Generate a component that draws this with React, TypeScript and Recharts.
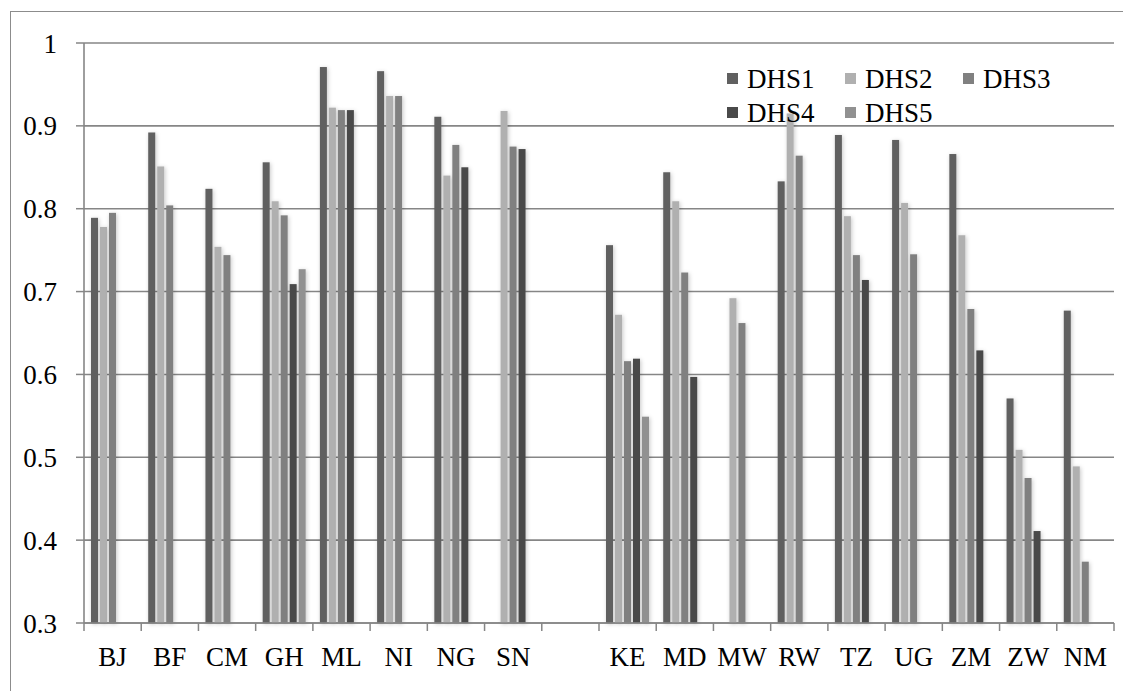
import { Bar, BarChart, CartesianGrid, XAxis, YAxis } from 'recharts'

// Survey rounds per country; null where a round is not available.
const countries = ['BJ', 'BF', 'CM', 'GH', 'ML', 'NI', 'NG', 'SN', '', 'KE', 'MD', 'MW', 'RW', 'TZ', 'UG', 'ZM', 'ZW', 'NM']
const dhs1 = [0.789, 0.892, 0.824, 0.856, 0.971, 0.966, 0.911, null, null, 0.756, 0.844, null, 0.833, 0.889, 0.883, 0.866, 0.571, 0.677]
const dhs2 = [0.778, 0.851, 0.754, 0.809, 0.922, 0.936, 0.84, 0.918, null, 0.672, 0.809, 0.692, 0.915, 0.791, 0.807, 0.768, 0.509, 0.489]
const dhs3 = [0.795, 0.804, 0.744, 0.792, 0.919, 0.936, 0.877, 0.875, null, 0.616, 0.723, 0.662, 0.864, 0.744, 0.745, 0.679, 0.475, 0.374]
const dhs4 = [null, null, null, 0.709, 0.919, null, 0.85, 0.872, null, 0.619, 0.597, null, null, 0.714, null, 0.629, 0.411, null]
const dhs5 = [null, null, null, 0.727, null, null, null, null, null, 0.549, null, null, null, null, null, null, null, null]

const seriesNames = ['DHS1', 'DHS2', 'DHS3', 'DHS4', 'DHS5']
const seriesValues = [dhs1, dhs2, dhs3, dhs4, dhs5]
const seriesColors = ['#606060', '#b0b0b0', '#808080', '#4a4a4a', '#919191']
const yTicks = [0.3, 0.4, 0.5, 0.6, 0.7, 0.8, 0.9, 1]

const data = countries.map((code, i) => {
  const row: Record<string, string | number | null> = { code }
  seriesNames.forEach((name, s) => {
    row[name] = seriesValues[s][i]
  })
  return row
})

const W = 1115
const H = 683
const MARGIN = { top: 35, right: 9, bottom: 18, left: 0 }
const Y_AXIS_W = 76
const X_AXIS_H = 50
const AXIS_Y = H - MARGIN.bottom - X_AXIS_H
const BAND = (W - MARGIN.right - Y_AXIS_W - MARGIN.left) / countries.length
const AXIS_GREY = '#868686'
const FONT = "'Liberation Serif', 'DejaVu Serif', serif"

// Excel-style category axis: tick marks sit between categories, labels centred.
function CountryTick(props: any) {
  const { x, payload, index } = props
  const last = index === countries.length - 1
  return (
    <g>
      <line x1={x - BAND / 2} x2={x - BAND / 2} y1={AXIS_Y} y2={AXIS_Y + 8} stroke={AXIS_GREY} strokeWidth={1.5} />
      {last && (
        <line x1={x + BAND / 2} x2={x + BAND / 2} y1={AXIS_Y} y2={AXIS_Y + 8} stroke={AXIS_GREY} strokeWidth={1.5} />
      )}
      <text x={x} y={AXIS_Y + 24} dy="0.71em" textAnchor="middle" fill="#000" style={{ fontFamily: FONT, fontSize: 27 }}>
        {payload.value}
      </text>
    </g>
  )
}

function ValueTick(props: any) {
  const { x, y, payload } = props
  return (
    <text x={x} y={y} dy="0.355em" textAnchor="end" fill="#000" style={{ fontFamily: FONT, fontSize: 27 }}>
      {payload.value}
    </text>
  )
}

function ShadowBar(props: any) {
  const { x, y, width, height, fill } = props
  if (!height || height <= 0) return null
  return <rect x={x} y={y} width={width} height={height} fill={fill} filter="url(#barGlow)" />
}

function DhsLegend() {
  const rows = [seriesNames.slice(0, 3), seriesNames.slice(3)]
  return (
    <div
      style={{
        position: 'absolute',
        left: 719,
        top: 54,
        fontFamily: FONT,
        fontSize: 27,
        lineHeight: '34px',
        color: '#000',
      }}
    >
      {rows.map((row, r) => (
        <div key={r} style={{ display: 'flex' }}>
          {row.map((name) => (
            <div key={name} style={{ display: 'flex', alignItems: 'flex-start', width: 118 }}>
              <span
                style={{
                  display: 'inline-block',
                  width: 11,
                  height: 11,
                  marginTop: 11,
                  marginRight: 9,
                  background: seriesColors[seriesNames.indexOf(name)],
                }}
              />
              <span>{name}</span>
            </div>
          ))}
        </div>
      ))}
    </div>
  )
}

export default function App() {
  return (
    <div style={{ position: 'relative', width: W, height: H, overflow: 'hidden', fontFamily: FONT }}>
      <div
        style={{
          position: 'absolute',
          left: 2,
          top: 3,
          width: 1200,
          height: 800,
          border: '1px solid #8c8c8c',
        }}
      />
      <div style={{ position: 'absolute', left: 0, top: 0 }}>
        <BarChart width={W} height={H} data={data} margin={MARGIN} barCategoryGap={7} barGap={2}>
          <defs>
            <filter id="barGlow" x="-200%" y="-5%" width="500%" height="110%">
              <feDropShadow dx={1} dy={1} stdDeviation={2} floodColor="#000" floodOpacity={0.22} />
            </filter>
          </defs>
          <CartesianGrid horizontal vertical={false} stroke={AXIS_GREY} strokeWidth={1.6} />
          <XAxis
            dataKey="code"
            interval={0}
            height={X_AXIS_H}
            tick={<CountryTick />}
            tickLine={false}
            axisLine={{ stroke: AXIS_GREY, strokeWidth: 1.6 }}
          />
          <YAxis
            type="number"
            domain={[0.3, 1]}
            ticks={yTicks}
            interval={0}
            width={Y_AXIS_W}
            tickSize={8}
            tickMargin={19}
            tickLine={{ stroke: AXIS_GREY, strokeWidth: 1.5 }}
            axisLine={{ stroke: AXIS_GREY, strokeWidth: 1.6 }}
            tick={<ValueTick />}
          />
          {seriesNames.map((name, s) => (
            <Bar
              key={name}
              dataKey={name}
              fill={seriesColors[s]}
              shape={<ShadowBar />}
              isAnimationActive={false}
            />
          ))}
        </BarChart>
      </div>
      <DhsLegend />
    </div>
  )
}
